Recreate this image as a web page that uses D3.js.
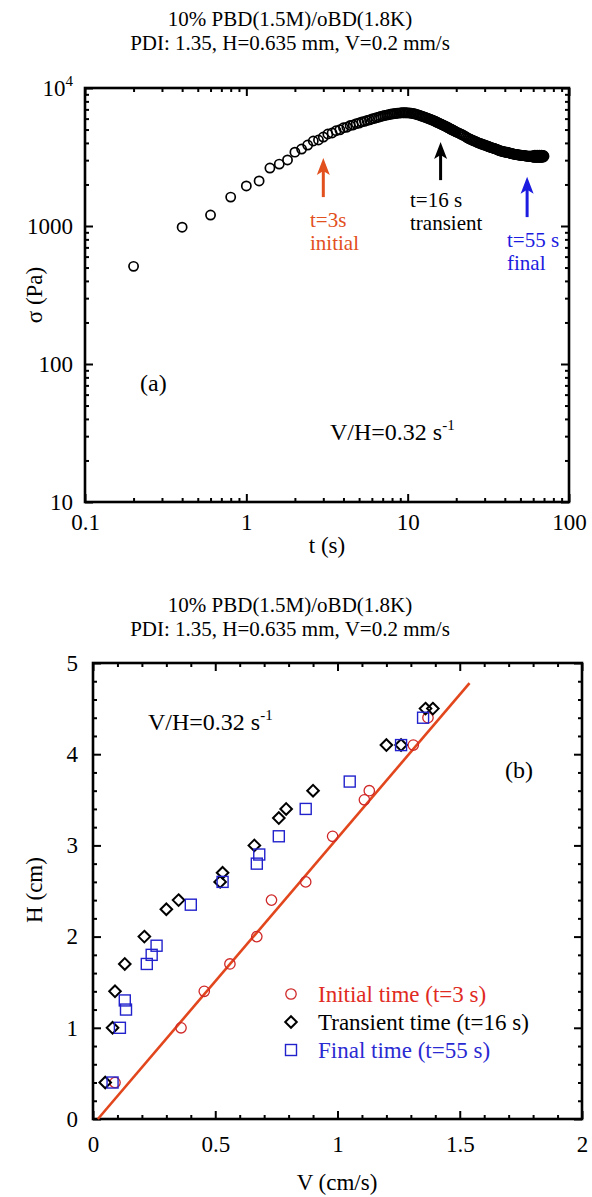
<!DOCTYPE html>
<html>
<head>
<meta charset="utf-8">
<script src="https://cdn.jsdelivr.net/npm/d3@7"></script>
<style>
  body { margin: 0; background: #fff; }
  svg { display: block; }
</style>
</head>
<body>
<svg id="chart"></svg>
<script>
// ---- Panel (a): stress growth, sampled in time ----
const timeS = [
  0.2, 0.4, 0.6, 0.8, 1.0, 1.2, 1.4, 1.6, 1.8, 2.0, 2.2, 2.4, 2.6, 2.8, 3.0, 3.2,
  3.4, 3.6, 3.8, 4.0, 4.2, 4.4, 4.6, 4.8, 5.0, 5.2, 5.4, 5.6, 5.8, 6.0, 6.2, 6.4, 6.6,
  6.8, 7.0, 7.2, 7.4, 7.6, 7.8, 8.0, 8.2, 8.4, 8.6, 8.8, 9.0, 9.2, 9.4, 9.6, 9.8, 10.0,
  10.25, 10.5, 10.75, 11, 11.25, 11.5, 11.75, 12, 12.25, 12.5, 12.75, 13, 13.25, 13.5,
  13.75, 14, 14.25, 14.5, 14.75, 15, 15.25, 15.5, 15.75, 16, 16.25, 16.5, 16.75, 17,
  17.25, 17.5, 17.75, 18, 18.25, 18.5, 18.75, 19, 19.25, 19.5, 19.75, 20,
  20.5, 21, 21.5, 22, 22.5, 23, 23.5, 24, 24.5, 25, 25.5, 26, 26.5, 27, 27.5, 28, 28.5,
  29, 29.5, 30, 30.5, 31, 31.5, 32, 32.5, 33, 33.5, 34, 34.5, 35, 35.5, 36, 36.5, 37,
  37.5, 38, 38.5, 39, 39.5, 40,
  40.5, 41, 41.5, 42, 42.5, 43, 43.5, 44, 44.5, 45, 45.5, 46, 46.5, 47, 47.5, 48, 48.5,
  49, 49.5, 50, 50.5, 51, 51.5, 52, 52.5, 53, 53.5, 54, 54.5, 55, 55.5, 56, 56.5, 57,
  57.5, 58, 58.5, 59, 59.5, 60, 60.5, 61, 61.5, 62, 62.5, 63, 63.5, 64, 64.5, 65, 65.5,
  66, 66.5, 67, 67.5, 68, 68.5, 69, 69.5, 70
];
const stressPa = [
  510, 980, 1200, 1620, 1950, 2120, 2630, 2810, 3010, 3430, 3610, 3860, 4130, 4200, 4410, 4640,
  4720, 4900, 4980, 5150, 5200, 5350, 5400, 5520, 5570, 5680, 5730, 5820, 5880, 5960, 6010, 6090, 6140,
  6220, 6270, 6320, 6360, 6410, 6450, 6490, 6510, 6540, 6560, 6580, 6600, 6610, 6620, 6610, 6610, 6600,
  6590, 6570, 6540, 6500, 6460, 6410, 6360, 6300, 6250, 6200, 6150, 6100, 6050, 6000,
  5950, 5900, 5850, 5800, 5740, 5690, 5640, 5590, 5540, 5490, 5440, 5400, 5350, 5310,
  5260, 5220, 5170, 5130, 5080, 5040, 5000, 4960, 4920, 4880, 4840, 4800,
  4740, 4680, 4620, 4560, 4500, 4420, 4350, 4300, 4250, 4200, 4160, 4120, 4080, 4040, 4000, 3970, 3940,
  3910, 3880, 3860, 3830, 3800, 3780, 3750, 3730, 3700, 3680, 3660, 3640, 3620, 3600, 3570, 3550, 3530,
  3500, 3490, 3480, 3460, 3450, 3440,
  3430, 3420, 3410, 3400, 3390, 3380, 3360, 3350, 3340, 3330, 3320, 3310, 3305, 3300, 3290, 3280, 3275,
  3270, 3265, 3260, 3255, 3250, 3245, 3240, 3235, 3230, 3225, 3220, 3215, 3210, 3210, 3210, 3200, 3200,
  3200, 3200, 3200, 3200, 3180, 3150, 3250, 3140, 3260, 3150, 3250, 3140, 3260, 3150, 3240, 3140, 3260,
  3150, 3250, 3140, 3260, 3150, 3250, 3160, 3240, 3200
];

// arrows: time, tail stress, tip stress
const arrowT = [3, 16, 55];
const arrowFrom = [1620, 2150, 1160];
const arrowTo = [3110, 4060, 2270];
const arrowColors = ["#e2501e", "#000000", "#1c1ce0"];
const arrowText1 = ["t=3s", "t=16 s", "t=55 s"];
const arrowText2 = ["initial", "transient", "final"];

const xTicksA = [0.1, 1, 10, 100];
const xTickLabelsA = ["0.1", "1", "10", "100"];
const yTicksA = [10, 100, 1000, 10000];
const yTickLabelsA = ["10", "100", "1000", "10"];

// ---- Panel (b): H vs V ----
const initV = [0.09, 0.36, 0.455, 0.56, 0.67, 0.73, 0.87, 0.98, 1.11, 1.13, 1.31, 1.37];
const initH = [0.4, 1.0, 1.4, 1.7, 2.0, 2.4, 2.6, 3.1, 3.5, 3.6, 4.1, 4.4];
const transV = [0.05, 0.08, 0.09, 0.13, 0.21, 0.30, 0.35, 0.52, 0.53, 0.66, 0.76, 0.79, 0.90, 1.20, 1.26, 1.36, 1.39];
const transH = [0.4, 1.0, 1.4, 1.7, 2.0, 2.3, 2.4, 2.6, 2.7, 3.0, 3.3, 3.4, 3.6, 4.1, 4.1, 4.5, 4.5];
const finalV = [0.08, 0.11, 0.13, 0.135, 0.22, 0.24, 0.26, 0.40, 0.53, 0.67, 0.68, 0.76, 0.87, 1.05, 1.26, 1.35];
const finalH = [0.4, 1.0, 1.3, 1.2, 1.7, 1.8, 1.9, 2.35, 2.6, 2.8, 2.9, 3.1, 3.4, 3.7, 4.1, 4.4];
const fitV = [0.02, 1.54];
const fitH = [0, 4.78];

const legendLabels = ["Initial time (t=3 s)", "Transient time (t=16 s)", "Final time (t=55 s)"];
const xTicksB = [0, 0.5, 1, 1.5, 2];
const xTickLabelsB = ["0", "0.5", "1", "1.5", "2"];
const yTicksB = [0, 1, 2, 3, 4, 5];

const titleLines = ["10% PBD(1.5M)/oBD(1.8K)", "PDI: 1.35, H=0.635 mm, V=0.2 mm/s"];

// colours
const redMark = "#d02828";
const redText = "#e02a22";
const fitColor = "#e2461c";
const blueMark = "#2222cc";

const serif = "'Liberation Serif', 'Times New Roman', serif";

// SVG setup
const W = 592, H = 1197;
const svg = d3.select("#chart")
  .attr("width", W).attr("height", H)
  .attr("font-family", serif);
svg.append("rect").attr("width", W).attr("height", H).attr("fill", "#fff");

const tickFont = 23;

// frame with inward ticks on all four sides
function drawFrame(g, x, y, opts) {
  const [x0, x1] = x.range();
  const [y0, y1] = y.range(); // y0 bottom, y1 top

  const axes = [
    { ax: d3.axisBottom(x), tr: `translate(0,${y0})`, vals: opts.xMajor, minor: opts.xMinor, lab: true, pad: opts.xPad },
    { ax: d3.axisTop(x), tr: `translate(0,${y1})`, vals: opts.xMajor, minor: opts.xMinor, lab: false },
    { ax: d3.axisLeft(y), tr: `translate(${x0},0)`, vals: opts.yMajor, minor: opts.yMinor, lab: true, pad: opts.yPad, y: true },
    { ax: d3.axisRight(y), tr: `translate(${x1},0)`, vals: opts.yMajor, minor: opts.yMinor, lab: false, y: true }
  ];
  opts.major = [];

  axes.forEach(a => {
    const fmt = a.lab ? (a.y ? opts.yFormat : opts.xFormat) : () => "";
    const major = g.append("g")
      .attr("transform", a.tr)
      .call(a.ax.tickValues(a.vals).tickFormat(fmt).tickSize(-8).tickPadding(a.pad || 6))
      .attr("font-size", tickFont)
      .attr("font-family", serif);
    major.select(".domain").remove();
    major.selectAll("line").attr("stroke-width", 2);
    if (a.lab) opts.major.push(major);

    const mg = g.append("g")
      .attr("transform", a.tr)
      .call(a.ax.tickValues(a.minor).tickFormat(() => "").tickSize(-4));
    mg.select(".domain").remove();
    mg.selectAll("line").attr("stroke-width", 2);
  });

  g.append("rect")
    .attr("x", x0).attr("y", y1)
    .attr("width", x1 - x0).attr("height", y0 - y1)
    .attr("fill", "none")
    .attr("stroke", "#000")
    .attr("stroke-width", 2.6);
}

function logMinor(lo, hi) {
  const out = [];
  for (let e = Math.log10(lo); e < Math.log10(hi); e++) {
    for (let m = 2; m <= 9; m++) out.push(m * Math.pow(10, e));
  }
  return out;
}

function title(cx, y1) {
  titleLines.forEach((t, i) => {
    svg.append("text")
      .attr("x", cx).attr("y", y1 + i * 24)
      .attr("text-anchor", "middle")
      .attr("font-size", 21)
      .text(t);
  });
}

function rateText(x, y) {
  const t = svg.append("text").attr("x", x).attr("y", y).attr("font-size", 24).text("V/H=0.32 s");
  t.append("tspan").attr("dy", -10).attr("font-size", 15).text("-1");
}

// ================= Panel (a) =================
const xA = d3.scaleLog().domain([0.1, 100]).range([85, 569]);
const yA = d3.scaleLog().domain([10, 10000]).range([502, 88]);
const gA = svg.append("g");

title(290, 26);

const optsA = {
  xMajor: xTicksA, xMinor: logMinor(0.1, 100),
  yMajor: yTicksA, yMinor: logMinor(10, 10000),
  xFormat: (d, i) => xTickLabelsA[i], yFormat: (d, i) => yTickLabelsA[i],
  xPad: 12, yPad: 12
};
drawFrame(gA, xA, yA, optsA);
// superscript on 10^4
optsA.major[1].selectAll(".tick text")
  .filter(d => d === 10000)
  .append("tspan").attr("dy", -10).attr("font-size", 15).text("4");

// data circles
gA.append("g").selectAll("circle")
  .data(timeS.map((t, i) => ({ t, s: stressPa[i] })))
  .join("circle")
  .attr("cx", d => xA(d.t))
  .attr("cy", d => yA(d.s))
  .attr("r", 4.6)
  .attr("fill", "none")
  .attr("stroke", "#000")
  .attr("stroke-width", 1.7);

// arrows + labels
arrowT.forEach((t, i) => {
  const x = xA(t), yTail = yA(arrowFrom[i]), yTip = yA(arrowTo[i]);
  gA.append("line")
    .attr("x1", x).attr("x2", x)
    .attr("y1", yTail).attr("y2", yTip + 10)
    .attr("stroke", arrowColors[i]).attr("stroke-width", 3);
  gA.append("path")
    .attr("d", `M${x},${yTip} L${x - 6.5},${yTip + 17} L${x},${yTip + 13} L${x + 6.5},${yTip + 17} Z`)
    .attr("fill", arrowColors[i]);
});
const labX = [310, 410, 507];
const labY = [227, 207, 247];
arrowT.forEach((t, i) => {
  gA.append("text").attr("x", labX[i]).attr("y", labY[i])
    .attr("font-size", 21).attr("fill", arrowColors[i]).text(arrowText1[i]);
  gA.append("text").attr("x", labX[i]).attr("y", labY[i] + 23)
    .attr("font-size", 21).attr("fill", arrowColors[i]).text(arrowText2[i]);
});

svg.append("text").attr("x", 140).attr("y", 391).attr("font-size", 24).text("(a)");
rateText(330, 440);

// axis titles
svg.append("text").attr("x", 327).attr("y", 553)
  .attr("text-anchor", "middle").attr("font-size", 23).text("t (s)");
svg.append("text")
  .attr("transform", "translate(42,295) rotate(-90)")
  .attr("text-anchor", "middle").attr("font-size", 23).text("σ (Pa)");

// ================= Panel (b) =================
const xB = d3.scaleLinear().domain([0, 2]).range([93, 582]);
const yB = d3.scaleLinear().domain([0, 5]).range([1119, 663]);
const gB = svg.append("g");

title(290, 612);

const optsB = {
  xMajor: xTicksB, xMinor: d3.range(0, 2.001, 0.1).filter(v => Math.abs(v * 2 - Math.round(v * 2)) > 1e-6),
  yMajor: yTicksB, yMinor: d3.range(0, 5.001, 0.2).filter(v => Math.abs(v - Math.round(v)) > 1e-6),
  xFormat: (d, i) => xTickLabelsB[i], yFormat: d => String(d),
  xPad: 17, yPad: 15
};
drawFrame(gB, xB, yB, optsB);

// fit line
gB.append("line")
  .attr("x1", xB(fitV[0])).attr("y1", yB(fitH[0]))
  .attr("x2", xB(fitV[1])).attr("y2", yB(fitH[1]))
  .attr("stroke", fitColor).attr("stroke-width", 2.6);

const diamond = s => `M0,${-s} L${s},0 L0,${s} L${-s},0 Z`;

// initial: red circles
gB.append("g").selectAll("circle")
  .data(initV.map((v, i) => ({ v, h: initH[i] })))
  .join("circle")
  .attr("cx", d => xB(d.v)).attr("cy", d => yB(d.h))
  .attr("r", 5.2)
  .attr("fill", "none").attr("stroke", redMark).attr("stroke-width", 1.3);

// transient: black diamonds
gB.append("g").selectAll("path")
  .data(transV.map((v, i) => ({ v, h: transH[i] })))
  .join("path")
  .attr("transform", d => `translate(${xB(d.v)},${yB(d.h)})`)
  .attr("d", diamond(5.8))
  .attr("fill", "none").attr("stroke", "#000").attr("stroke-width", 2);

// final: blue squares
gB.append("g").selectAll("rect")
  .data(finalV.map((v, i) => ({ v, h: finalH[i] })))
  .join("rect")
  .attr("x", d => xB(d.v) - 5.5).attr("y", d => yB(d.h) - 5.5)
  .attr("width", 11).attr("height", 11)
  .attr("fill", "none").attr("stroke", blueMark).attr("stroke-width", 1.4);

// legend
const legY = [994, 1022, 1050];
const legColors = [redText, "#000", "#2a2ad2"];
const lg = gB.append("g");
lg.append("circle").attr("cx", 291).attr("cy", legY[0]).attr("r", 5.2)
  .attr("fill", "none").attr("stroke", redMark).attr("stroke-width", 1.3);
lg.append("path").attr("transform", `translate(291,${legY[1]})`).attr("d", diamond(5.8))
  .attr("fill", "none").attr("stroke", "#000").attr("stroke-width", 2);
lg.append("rect").attr("x", 285.5).attr("y", legY[2] - 5.5).attr("width", 11).attr("height", 11)
  .attr("fill", "none").attr("stroke", blueMark).attr("stroke-width", 1.4);
legendLabels.forEach((t, i) => {
  lg.append("text").attr("x", 318).attr("y", legY[i] + 8)
    .attr("font-size", 23).attr("fill", legColors[i]).text(t);
});

svg.append("text").attr("x", 505).attr("y", 778).attr("font-size", 24).text("(b)");
rateText(148, 730);

svg.append("text").attr("x", 337).attr("y", 1190)
  .attr("text-anchor", "middle").attr("font-size", 23).text("V (cm/s)");
svg.append("text")
  .attr("transform", "translate(42,890) rotate(-90)")
  .attr("text-anchor", "middle").attr("font-size", 23).text("H (cm)");
</script>
</body>
</html>
